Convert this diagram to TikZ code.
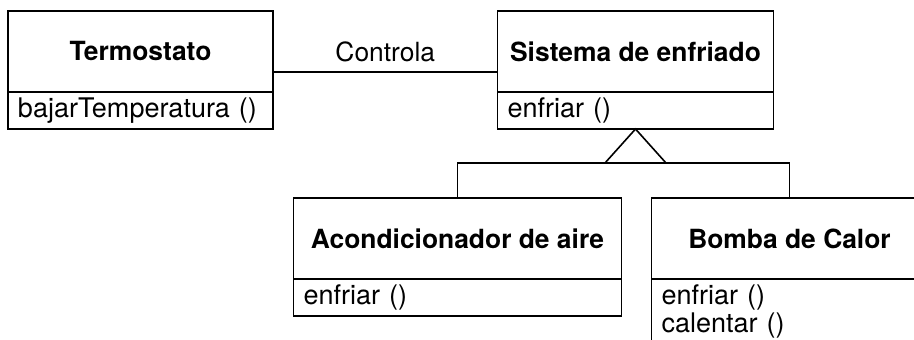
\documentclass[tikz,border=0pt]{standalone}
\usepackage{fontspec}
\setmainfont{TeX Gyre Heros}
\usetikzlibrary{positioning}

\begin{document}
\begin{tikzpicture}[
    line width = 0.8pt,
    every node/.style = {font=\fontsize{13.2}{11.5}\selectfont, outer sep=0pt},
    classname/.style = {draw, font=\fontsize{13.2}{11.5}\selectfont\bfseries,
      minimum height=40.5pt, inner sep=0pt},
    classops/.style = {draw, align=left, inner xsep=5pt, inner ysep=3.25pt,
      font=\fontsize{13.5}{11.5}\selectfont,
      text height=9.75pt, text depth=2.25pt}]
  \clip (0,0) rectangle (457pt,-170pt);
  \node (termo) [classname, minimum width=132.5pt, anchor=north west] at (4pt,-5.5pt) {Termostato};
  \node (termoops) [classops, text width=122.5pt, below = 0pt of termo] {bajarTemperatura ()};
  \node (sistema) [classname, minimum width=138pt, right = 112.25pt of termo] {Sistema de enfriado};
  \node (sisops) [classops, text width=128pt, below = 0pt of sistema] {enfriar ()};
  \node (aire) [classname, minimum width=164pt, anchor=north] at ([xshift=-89pt, yshift=-34.5pt]sisops.south) {Acondicionador de aire};
  \node (aireops) [classops, text width=154pt, below = 0pt of aire] {enfriar ()};
  \node (bomba) [classname, minimum width=138pt, right = 15pt of aire] {Bomba de Calor};
  \node (bombaops) [classops, text width=128pt, text depth=20pt, below = 0pt of bomba] {enfriar ()\\ calentar ()};
  \coordinate (tri) at ([yshift=-17pt]sisops.south);
  \draw (sisops.south) -- ([xshift=-15.25pt]tri) -- ([xshift=15.25pt]tri) -- cycle;
  \draw (aire.north) |- (tri) -| (bomba.north);
  \draw ([yshift=10pt]termo.south east) -- node[above, inner sep=5pt] {Controla} ([yshift=10pt]sistema.south west);
\end{tikzpicture}
\end{document}
